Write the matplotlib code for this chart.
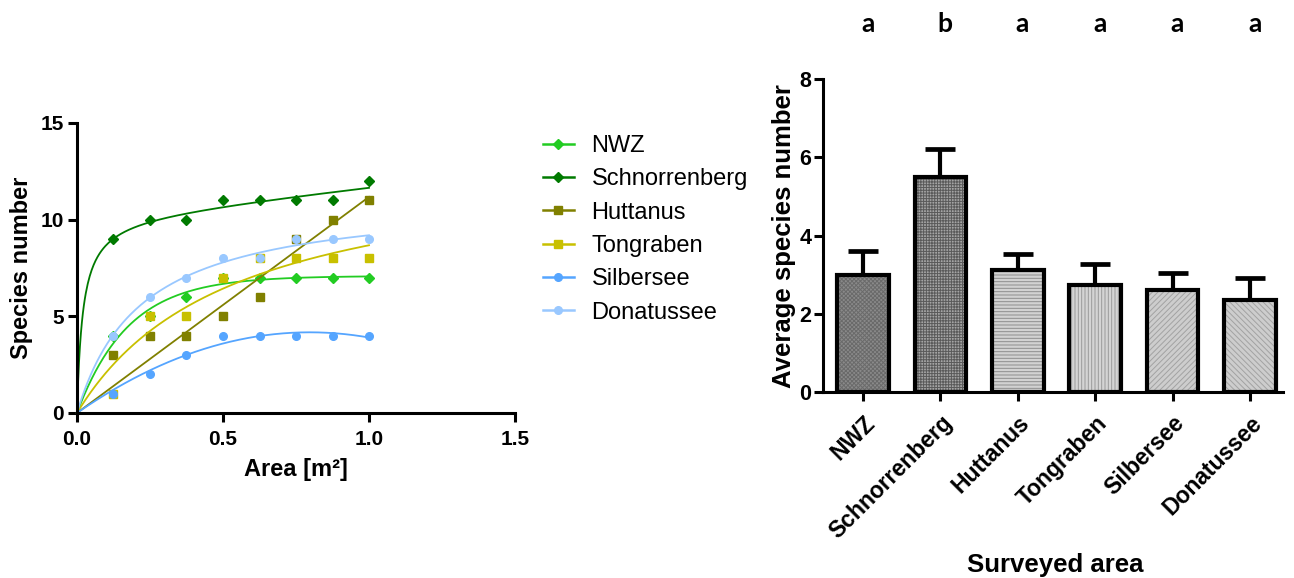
import numpy as np
import matplotlib
matplotlib.use("Agg")
import matplotlib.pyplot as plt
import matplotlib.transforms as mtrans
from matplotlib.lines import Line2D

plt.rcParams['font.family'] = ['Liberation Sans', 'DejaVu Sans']
plt.rcParams['font.weight'] = 'bold'
plt.rcParams['hatch.linewidth'] = 0.7

# --- left panel: species-area data ---
area = [0.125, 0.25, 0.375, 0.5, 0.625, 0.75, 0.875, 1.0]
sites = ["NWZ", "Schnorrenberg", "Huttanus", "Tongraben", "Silbersee", "Donatussee"]
nwz = [4, 5, 6, 7, 7, 7, 7, 7]
schnorrenberg = [9, 10, 10, 11, 11, 11, 11, 12]
huttanus = [3, 4, 4, 5, 6, 9, 10, 11]
tongraben = [1, 5, 5, 7, 8, 8, 8, 8]
silbersee = [1, 2, 3, 4, 4, 4, 4, 4]
donatussee = [4, 6, 7, 8, 8, 9, 9, 9]
series = [nwz, schnorrenberg, huttanus, tongraben, silbersee, donatussee]
colors = ["#22cc22", "#007a00", "#808000", "#c8c000", "#55a5ff", "#99c8ff"]
markers = ["D", "D", "s", "s", "o", "o"]
models = ["exp", "hyper_lin", "line", "hyper", "poly2", "hyper"]

# --- right panel: mean species per plot ---
means = [3.0, 5.5, 3.12, 2.74, 2.61, 2.37]
sem = [0.61, 0.72, 0.41, 0.54, 0.45, 0.54]
letters = ["a", "b", "a", "a", "a", "a"]
bar_face = ["#8a8a8a", "#a4a4a4", "#d2d2d2", "#d4d4d4", "#cdcdcd", "#cdcdcd"]
bar_hatchc = ["#6a6a6a", "#5a5a5a", "#8e8e8e", "#9a9a9a", "#a2a2a2", "#a2a2a2"]
bar_hatch = ["xxxxxxxx", "++++++", "-----", "|||||", "//////", "\\\\\\\\\\\\"]


def basis(kind, x, p):
    if kind == "exp":
        return np.column_stack([1 - np.exp(-p * x)])
    if kind == "hyper":
        return np.column_stack([x / (p + x)])
    if kind == "hyper_lin":
        return np.column_stack([x / (p + x), x])
    if kind == "poly2":
        return np.column_stack([x, x ** 2])
    return np.column_stack([x])


def fit(kind, x, y):
    grid = np.linspace(0.005, 20, 4000) if kind in ("exp", "hyper", "hyper_lin") else [None]
    best = None
    for p in grid:
        A = basis(kind, x, p)
        coef = np.linalg.lstsq(A, y, rcond=None)[0]
        sse = np.sum((A @ coef - y) ** 2)
        if best is None or sse < best[0]:
            best = (sse, p, coef)
    return best[1], best[2]


fig = plt.figure(figsize=(12.94, 5.78), dpi=100)

ax1 = fig.add_axes([0.0595, 0.2855, 0.3385, 0.5017])
x = np.array(area)
xs = np.linspace(0.0001, 1.0, 300)
handles = []
for name, y, c, m, kind in zip(sites, series, colors, markers, models):
    p, coef = fit(kind, x, np.array(y, dtype=float))
    ax1.plot(np.r_[0, xs], np.r_[0, basis(kind, xs, p) @ coef], color=c, lw=1.3, clip_on=False)
    ms = 5.2 if m == "D" else 5.5
    ax1.plot(x, y, ls="none", marker=m, color=c, ms=ms, clip_on=False)
    handles.append(Line2D([], [], color=c, lw=1.8, marker=m, ms=ms))

ax1.set_xlim(0, 1.5)
ax1.set_ylim(0, 15)
ax1.set_xticks([0, 0.5, 1.0, 1.5])
ax1.set_xticklabels(["0.0", "0.5", "1.0", "1.5"])
ax1.set_yticks([0, 5, 10, 15])
ax1.set_xlabel("Area [m²]", fontsize=17, fontweight="bold", labelpad=6)
ax1.set_ylabel("Species number", fontsize=17, fontweight="bold", labelpad=5)

fig.legend(handles, sites, loc="upper left", bbox_to_anchor=(543 / 1294, 1 - 135 / 578),
           frameon=False, handlelength=1.3, handletextpad=0.75,
           labelspacing=0.48, borderpad=0, borderaxespad=0,
           prop={"family": "Liberation Sans", "weight": "normal", "size": 17})

ax2 = fig.add_axes([0.636, 0.321, 0.3555, 0.5424])
pos = np.arange(len(sites))
ax2.errorbar(pos, means, yerr=[np.zeros(len(sem)), sem], fmt="none", ecolor="black",
             elinewidth=3, capsize=10.5, capthick=3.4, zorder=1)
ax2.bar(pos, means, width=0.668, color=bar_face, edgecolor=bar_hatchc,
        linewidth=0, zorder=2)
for patch, h in zip(ax2.patches, bar_hatch):
    patch.set_hatch(h)
ax2.bar(pos, means, width=0.668, facecolor="none", edgecolor="black", linewidth=3, zorder=3)

ax2.set_xlim(-0.517, 5.426)
ax2.set_ylim(0, 8)
ax2.set_yticks([0, 2, 4, 6, 8])
ax2.set_xticks(pos)
ax2.set_xticklabels(sites, rotation=45, ha="right", rotation_mode="anchor", fontsize=16.5)
ax2.set_xlabel("Surveyed area", fontsize=18.5, fontweight="bold", va="center")
ax2.xaxis.set_label_coords(0.504, -0.55)
ax2.set_ylabel("Average species number", fontsize=18.5, fontweight="bold", labelpad=2)

trans = mtrans.blended_transform_factory(ax2.transData, fig.transFigure)
for xi, lt in zip(pos, letters):
    ax2.text(xi + 0.06, 1 - 24 / 578, lt, transform=trans, ha="center", va="center",
             fontsize=19, fontweight="bold", family="Lato")

for ax in (ax1, ax2):
    ax.spines["top"].set_visible(False)
    ax.spines["right"].set_visible(False)
    ax.spines["left"].set_linewidth(2.2)
    ax.spines["bottom"].set_linewidth(2.2)
    ax.tick_params(length=6.5, width=2.2, direction="out")
    for lab in ax.get_xticklabels() + ax.get_yticklabels():
        lab.set_fontweight("bold")
ax1.tick_params(labelsize=15, pad=3)
ax1.tick_params(axis="x", pad=6)
ax2.tick_params(axis="y", labelsize=15.5, pad=2)
ax2.tick_params(axis="x", pad=7)

fig.savefig("out.png", dpi=100)
